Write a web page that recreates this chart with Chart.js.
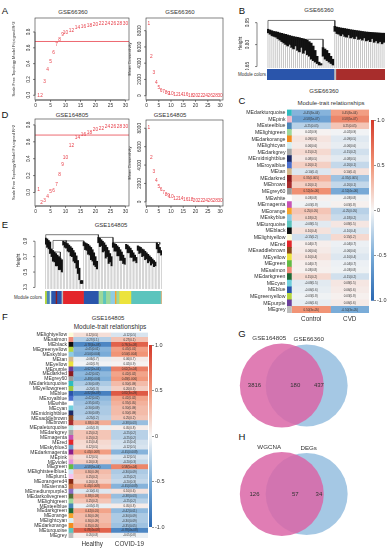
<!DOCTYPE html>
<html>
<head>
<meta charset="utf-8">
<title>WGCNA panels</title>
<script src="https://cdn.jsdelivr.net/npm/chart.js@4.4.1/dist/chart.umd.min.js"></script>
<style>
  body { margin: 0; width: 389px; height: 550px; position: relative; overflow: hidden; background: #fff;
         font-family: "Liberation Sans", Arial, Helvetica, sans-serif; color: #222; }
  canvas { position: absolute; }
  .t { position: absolute; white-space: nowrap; transform: translate(-50%, -50%); line-height: 1; font-size: 6px; color: #333; }
  .p { position: absolute; line-height: 1; transform: translate(-50%, -50%); font-size: 9.5px; color: #111; }
  .r { position: absolute; white-space: nowrap; transform: translate(-100%, -50%); line-height: 1; font-size: 4.5px; color: #333; }
</style>
</head>
<body>
<div class="p" style="left:5px;top:11px">A</div>
<div class="p" style="left:242px;top:11px">B</div>
<div class="p" style="left:242px;top:101px">C</div>
<div class="p" style="left:5px;top:115px">D</div>
<div class="p" style="left:5px;top:225px">E</div>
<div class="p" style="left:5px;top:317px">F</div>
<div class="p" style="left:242px;top:334px">G</div>
<div class="p" style="left:242px;top:437px">H</div>

<div class="t" style="left:73px;top:12px">GSE66360</div>
<div class="t" style="left:180px;top:12px">GSE66360</div>
<div class="t" style="left:319px;top:10px">GSE66360</div>
<div class="t" style="left:324px;top:91px">GSE66360</div>
<div class="t" style="left:331px;top:103px">Module-trait relationships</div>
<div class="t" style="left:72px;top:115px">GSE164805</div>
<div class="t" style="left:170px;top:115px">GSE164805</div>
<div class="t" style="left:111px;top:225px">GSE164805</div>
<div class="t" style="left:108px;top:318px">GSE164805</div>
<div class="t" style="left:110px;top:327px;font-size:6.5px">Module-trait relationships</div>
<div class="r" style="left:266px;top:75px">Module colors</div>
<div class="r" style="left:42px;top:298px">Module colors</div>

<script>
// =====================
// Data
// =====================
// soft-threshold scans (panels A and D)
const powers = [1, 2, 3, 4, 5, 6, 7, 8, 9, 10, 12, 14, 16, 18, 20, 22, 24, 26, 28, 30];
const fitA = [-0.01, -0.01, 0.17, 0.325, 0.43, 0.54, 0.64, 0.70, 0.76, 0.79, 0.82, 0.85, 0.87, 0.885, 0.895, 0.90, 0.905, 0.91, 0.91, 0.91];
const connA = [8910, 4800, 2830, 1650, 1030, 615, 455, 330, 290, 200, 140, 100, 80, 60, 50, 40, 35, 30, 25, 20];
const fitD = [0.036, -0.115, -0.10, -0.05, 0.015, 0.024, 0.095, 0.21, 0.33, 0.41, 0.55, 0.65, 0.69, 0.71, 0.74, 0.76, 0.78, 0.78, 0.78, 0.78];
const connD = [8110, 4820, 3240, 2300, 1690, 1330, 970, 790, 650, 540, 380, 300, 250, 210, 180, 160, 140, 120, 110, 100];
const fitCut = 0.68;
const powerTicks = [0, 5, 10, 15, 20, 25, 30];
const fitTicks = [0, 0.2, 0.4, 0.6, 0.8];
const fitTickLabels = ['0.0', '0.2', '0.4', '0.6', '0.8'];
const connTicks = [0, 2000, 4000, 6000, 8000];
const connTickLabels = ['0', '2000', '4000', '6000', '8000'];

// gene dendrogram GSE66360 (panel B): branch top / lowest extent per leaf group
const topsB = [0.905, 0.90, 0.895, 0.89, 0.888, 0.885, 0.88, 0.877, 0.873, 0.87, 0.866, 0.862, 0.858, 0.855, 0.852, 0.85, 0.847,
  0.843, 0.84, 0.836, 0.83, 0.82, 0.81, 0.79, 0.76, 0.72, 0.68, 0.67, 0.78, 0.77, 0.76, 0.74, 0.72, 0.70,
  0.925, 0.92, 0.917, 0.914, 0.912, 0.91, 0.907, 0.905, 0.902, 0.90, 0.898, 0.896, 0.894, 0.892, 0.89, 0.888, 0.886,
  0.885, 0.884, 0.883, 0.882, 0.881, 0.88, 0.879, 0.878, 0.878];
const lowsB = [0.88, 0.87, 0.86, 0.855, 0.85, 0.84, 0.83, 0.82, 0.81, 0.80, 0.79, 0.80, 0.78, 0.77, 0.79, 0.76, 0.75,
  0.78, 0.74, 0.76, 0.73, 0.72, 0.70, 0.69, 0.68, 0.67, 0.66, 0.66, 0.72, 0.70, 0.69, 0.68, 0.67, 0.66,
  0.89, 0.875, 0.87, 0.86, 0.87, 0.855, 0.85, 0.865, 0.845, 0.85, 0.84, 0.855, 0.835, 0.84, 0.83, 0.845, 0.825,
  0.83, 0.82, 0.84, 0.815, 0.825, 0.81, 0.82, 0.805, 0.815];
// merges: [left leaf, left child height, right leaf, right child height, merge height]
const mergesB = [[0, 0.905, 34, 0.925, 0.965], [11, 0.836, 28, 0.78, 0.836]];
const heightTicksB = [0.65, 0.80, 0.95];
const heightLabelsB = ['0.65', '0.80', '0.95'];
const bandColorsB = ['blue', 'grey', 'brown'];
const bandSizesB = [34, 1, 25];

// gene dendrogram GSE164805 (panel E)
const topsE = [0.94, 0.93, 0.91, 0.89, 0.80, 0.78, 0.76, 0.74, 0.72, 0.70, 0.68, 0.66,
  0.90, 0.89, 0.88, 0.87, 0.85, 0.83, 0.81, 0.78, 0.75, 0.71, 0.65, 0.55, 0.39, 0.39,
  0.89, 0.88, 0.87, 0.86, 0.84, 0.82, 0.79, 0.75, 0.70, 0.64,
  0.95, 0.94, 0.92, 0.90, 0.88, 0.85, 0.82, 0.78, 0.74, 0.70,
  0.88, 0.87, 0.86, 0.84, 0.82, 0.79, 0.76, 0.72, 0.68,
  0.86, 0.85, 0.83, 0.81, 0.78, 0.75, 0.72, 0.69,
  0.84, 0.83, 0.82, 0.80, 0.79, 0.77, 0.75, 0.73, 0.71, 0.69, 0.67, 0.65, 0.63,
  0.88, 0.86, 0.82, 0.78];
const lowsE = [0.86, 0.82, 0.80, 0.74, 0.70, 0.64, 0.63, 0.58, 0.58, 0.53, 0.53, 0.50,
  0.85, 0.82, 0.81, 0.77, 0.76, 0.71, 0.70, 0.64, 0.62, 0.55, 0.48, 0.40, 0.35, 0.35,
  0.84, 0.79, 0.78, 0.73, 0.72, 0.66, 0.64, 0.59, 0.57, 0.54,
  0.88, 0.83, 0.84, 0.76, 0.77, 0.68, 0.70, 0.61, 0.63, 0.58,
  0.82, 0.77, 0.77, 0.71, 0.71, 0.65, 0.65, 0.61, 0.60,
  0.80, 0.75, 0.75, 0.69, 0.69, 0.64, 0.65, 0.62,
  0.78, 0.74, 0.75, 0.70, 0.71, 0.66, 0.67, 0.62, 0.64, 0.59, 0.61, 0.57, 0.58,
  0.80, 0.75, 0.75, 0.72];
const mergesE = [[0, 0.94, 36, 0.95, 0.985], [5, 0.80, 14, 0.885, 0.91], [14, 0.885, 26, 0.89, 0.905],
  [5, 0.76, 10, 0.68, 0.76], [36, 0.95, 46, 0.88, 0.95], [46, 0.88, 78, 0.86, 0.885]];
const heightTicksE = [0.3, 0.5, 0.7, 0.9];
const heightLabelsE = ['0.3', '0.5', '0.7', '0.9'];
const bandColorsE = ['greenyellow', 'steelblue', 'lightcyan', 'blue', 'darkred', 'blue', 'grey', 'red', 'blue', 'lightgreen',
  'turquoise', 'lightgreen', 'skyblue', 'orange', 'lightgreen', 'yellow', 'turquoise', 'tan'];
const bandSizesE = [1, 2, 1, 3, 1, 3, 1, 14, 10, 3, 2, 3, 3, 1, 2, 8, 20, 1];

// module-trait relationships GSE66360 (panel C)
const traitsC = ['Control', 'CVD'];
const modulesC = ['darkturquoise', 'pink', 'steelblue', 'lightgreen', 'darkorange', 'lightcyan', 'darkgrey', 'midnightblue',
  'royalblue', 'tan', 'darkred', 'brown', 'grey60', 'white', 'magenta', 'orange', 'skyblue', 'turquoise', 'black',
  'lightyellow', 'red', 'saddlebrown', 'yellow', 'green', 'salmon', 'darkgreen', 'cyan', 'blue', 'greenyellow', 'purple', 'grey'];
const corControl = [-0.45, -0.58, -0.25, 0.02, 0.09, 0.06, 0.15, 0.08, 0.2, -0.1, 0.35, 0.2, 0.52, 0.03, -0.03, 0.25,
  0.18, -0.08, 0.1, -0.15, 0.04, 0.06, 0.1, 0.04, 0.03, 0.15, -0.08, -0.06, -0.03, -0.06, 0.5];
const corCVD = [0.45, 0.58, 0.25, -0.02, -0.09, -0.06, -0.15, -0.08, -0.2, 0.1, -0.35, -0.2, -0.52, -0.03, 0.03, -0.25,
  -0.18, 0.08, -0.1, 0.15, -0.04, -0.06, -0.1, -0.04, -0.03, -0.15, 0.08, 0.06, 0.03, 0.06, -0.5];
const pvalC = ['3e-04', '5e-07', '0.05', '0.9', '0.5', '0.6', '0.2', '0.5', '0.1', '0.4', '0.005', '0.1', '4e-06', '0.8',
  '0.8', '0.05', '0.2', '0.5', '0.4', '0.2', '0.7', '0.6', '0.4', '0.7', '0.8', '0.2', '0.5', '0.6', '0.8', '0.6', '3e-05'];

// module-trait relationships GSE164805 (panel F)
const traitsF = ['Healthy', 'COVID-19'];
const modulesF = ['lightyellow', 'salmon', 'black', 'greenyellow', 'skyblue', 'tan', 'yellow', 'purple', 'darkred', 'grey60',
  'darkturquoise', 'yellowgreen', 'blue', 'royalblue', 'white', 'cyan', 'midnightblue', 'saddlebrown', 'brown',
  'paleturquoise', 'darkgrey', 'magenta', 'red', 'skyblue3', 'darkmagenta', 'pink', 'violet', 'green', 'lightsteelblue1',
  'plum1', 'orangered4', 'sienna3', 'mediumpurple3', 'darkolivegreen', 'lightgreen', 'steelblue', 'darkgreen', 'orange',
  'lightcyan', 'darkorange', 'turquoise', 'grey'];
const corHealthy = [0.12, -0.27, -0.78, -0.45, -0.5, -0.06, -0.02, -0.62, -0.42, -0.48, -0.3, -0.2, -0.82, -0.42, -0.35,
  -0.3, -0.3, -0.25, 0.38, -0.05, 0.25, 0.25, 0.15, 0.12, 0.45, 0.12, 0.2, -0.58, 0.3, 0.25, 0.2, 0.45, -0.1, 0.38, 0.25,
  -0.05, 0.42, 0.3, 0.3, 0.35, 0.78, 0.05];
const corCovid = [-0.12, 0.27, 0.78, 0.45, 0.5, 0.06, 0.02, 0.62, 0.42, 0.48, 0.3, 0.2, 0.82, 0.42, 0.35,
  0.3, 0.3, 0.25, -0.38, 0.05, -0.25, -0.25, -0.15, -0.12, -0.45, -0.12, -0.2, 0.58, -0.3, -0.25, -0.2, -0.45, 0.1, -0.38,
  -0.25, 0.05, -0.42, -0.3, -0.3, -0.35, -0.78, -0.05];
const pvalF = ['0.5', '0.1', '4e-08', '0.01', '0.004', '0.7', '0.9', '2e-04', '0.02', '0.006', '0.09', '0.3', '3e-09', '0.02',
  '0.05', '0.09', '0.09', '0.2', '0.03', '0.8', '0.2', '0.2', '0.4', '0.5', '0.008', '0.5', '0.3', '5e-04', '0.09', '0.2',
  '0.3', '0.008', '0.6', '0.03', '0.2', '0.8', '0.01', '0.09', '0.09', '0.05', '4e-08', '0.8'];

// Venn diagrams (panels G and H)
const setsG = ['GSE164805', 'GSE66360'];
const countsG = [3816, 180, 437];
const setsH = ['WGCNA', 'DEGs'];
const countsH = [126, 57, 34];

// =====================
// Styles
// =====================
const FONT = '"Liberation Sans", Arial, Helvetica, sans-serif';
const RED = '#e8434d';
const MOD = {
  darkturquoise: '#2fbcc0', pink: '#f4b9c9', steelblue: '#4a86b8', lightgreen: '#9dd89a', darkorange: '#f28c1f',
  lightcyan: '#d6eff2', darkgrey: '#a7a7a7', midnightblue: '#1e2a66', royalblue: '#4b6fcd', tan: '#d5b78a',
  darkred: '#8c1c1f', brown: '#a82d2c', grey60: '#9b9b9b', white: '#ffffff', magenta: '#c653b6', orange: '#f6a42c',
  skyblue: '#8dcbe4', turquoise: '#5bc4bd', black: '#111111', lightyellow: '#fcfbd8', red: '#e3262b',
  saddlebrown: '#8a4a1f', yellow: '#ece33c', green: '#62bb45', salmon: '#f08a78', darkgreen: '#1c6a37',
  cyan: '#70d0dd', blue: '#2a55ab', greenyellow: '#b5d63d', purple: '#6c3f9c', grey: '#bdbdbd',
  yellowgreen: '#9cc942', paleturquoise: '#b8e5e4', skyblue3: '#6aa0c9', darkmagenta: '#8b1c8b', violet: '#e391de',
  lightsteelblue1: '#d0e1f6', plum1: '#f5c3ef', orangered4: '#8a2a15', sienna3: '#c86b3c', mediumpurple3: '#8b6cc3',
  darkolivegreen: '#566b36'
};
const heatStops = [[-1, [42, 104, 178]], [-0.5, [122, 172, 216]], [0, [246, 246, 246]], [0.5, [241, 148, 118]], [1, [212, 58, 42]]];

function heat(v) {
  for (let i = 1; i < heatStops.length; i++) {
    const [v1, c1] = heatStops[i];
    const [v0, c0] = heatStops[i - 1];
    if (v <= v1) {
      const t = (v - v0) / (v1 - v0);
      const c = c0.map((x, k) => Math.round(x + (c1[k] - x) * t));
      return `rgb(${c[0]},${c[1]},${c[2]})`;
    }
  }
  return 'rgb(212,58,42)';
}

// =====================
// Helpers
// =====================
function makeCanvas(left, top, w, h) {
  const c = document.createElement('canvas');
  c.width = w; c.height = h;
  c.style.left = left + 'px'; c.style.top = top + 'px';
  c.style.width = w + 'px'; c.style.height = h + 'px';
  document.body.appendChild(c);
  return c;
}

function baseOptions(padding) {
  return {
    responsive: false, animation: false, devicePixelRatio: 1, events: [],
    layout: { padding },
    plugins: { legend: { display: false }, tooltip: { enabled: false } }
  };
}

function rotText(ctx, s, x, y, size) {
  ctx.save();
  if (size) ctx.font = `${size}px ${FONT}`;
  ctx.translate(x, y);
  ctx.rotate(-Math.PI / 2);
  ctx.fillText(s, 0, 0);
  ctx.restore();
}

// R-style axes: box, outside ticks, vertical y labels
function rAxes(cfg) {
  return {
    id: 'rAxes',
    afterDraw(chart) {
      const { ctx, chartArea: a, scales } = chart;
      const seg = (x1, y1, x2, y2) => { ctx.beginPath(); ctx.moveTo(x1, y1); ctx.lineTo(x2, y2); ctx.stroke(); };
      ctx.save();
      ctx.strokeStyle = '#333'; ctx.fillStyle = '#333'; ctx.lineWidth = 0.6;
      ctx.font = `4.8px ${FONT}`;
      ctx.textAlign = 'center'; ctx.textBaseline = 'middle';
      if (cfg.box) ctx.strokeRect(a.left, a.top, a.right - a.left, a.bottom - a.top);
      if (cfg.xTicks) {
        const px = cfg.xTicks.map(v => scales.x.getPixelForValue(v));
        seg(px[0], a.bottom, px[px.length - 1], a.bottom);
        px.forEach((p, i) => { seg(p, a.bottom, p, a.bottom + 2); ctx.fillText(cfg.xLabels[i], p, a.bottom + 5.5); });
      }
      if (cfg.yTicks) {
        const x0 = a.left - (cfg.yGap || 0);
        const py = cfg.yTicks.map(v => scales.y.getPixelForValue(v));
        seg(x0, py[0], x0, py[py.length - 1]);
        py.forEach((p, i) => { seg(x0, p, x0 - 2, p); rotText(ctx, cfg.yLabels[i], x0 - cfg.yLabelOff, p); });
      }
      if (cfg.yTitle) rotText(ctx, cfg.yTitle, a.left - cfg.yTitleOff, (a.top + a.bottom) / 2, cfg.titleSize);
      ctx.restore();
    }
  };
}

// power numbers printed in place of points
function pointText(labels) {
  return {
    id: 'pointText',
    afterDatasetsDraw(chart) {
      const ctx = chart.ctx;
      ctx.save();
      ctx.fillStyle = RED; ctx.font = `4.8px ${FONT}`;
      ctx.textAlign = 'center'; ctx.textBaseline = 'middle';
      chart.getDatasetMeta(0).data.forEach((pt, i) => ctx.fillText(String(labels[i]), pt.x, pt.y));
      ctx.restore();
    }
  };
}

// =====================
// A / D: scale independence + mean connectivity
// =====================
function softChart(box, pad, values, yMin, yMax, yTicks, yLabels, yTitle, cut, offs) {
  const datasets = [{ type: 'scatter', data: powers.map((p, i) => ({ x: p, y: values[i] })), pointRadius: 0 }];
  if (cut !== null) {
    datasets.push({ type: 'line', data: [{ x: -5, y: cut }, { x: 40, y: cut }], borderColor: RED, borderWidth: 0.8, pointRadius: 0 });
  }
  const options = baseOptions(pad);
  options.scales = {
    x: { type: 'linear', display: false, min: -0.2, max: 31.2 },
    y: { type: 'linear', display: false, min: yMin, max: yMax }
  };
  return new Chart(makeCanvas(...box), {
    type: 'scatter', data: { datasets }, options,
    plugins: [pointText(powers), rAxes({
      box: true, xTicks: powerTicks, xLabels: powerTicks.map(String), yTicks, yLabels,
      yLabelOff: offs[0], yTitle, yTitleOff: offs[1], titleSize: 4
    })]
  });
}

softChart([0, 0, 132, 112], { left: 35, top: 18, right: 3, bottom: 12 }, fitA, -0.06, 0.977, fitTicks, fitTickLabels,
  'Scale Free Topology Model Fit,signed R^2', fitCut, [6.5, 21]);
softChart([125, 0, 102, 112], { left: 21, top: 18, right: 4, bottom: 12 }, connA, -530, 9560, connTicks, connTickLabels,
  'Mean Connectivity', null, [6, 16]);
softChart([0, 110, 132, 110], { left: 35, top: 9, right: 3, bottom: 14 }, fitD, -0.16, 0.87, fitTicks, fitTickLabels,
  'Scale Free Topology Model Fit,signed R^2', fitCut, [6.5, 21]);
softChart([125, 110, 102, 110], { left: 21, top: 10, right: 4, bottom: 14 }, connD, -450, 8900, connTicks, connTickLabels,
  'Mean Connectivity', null, [6, 16]);

// =====================
// B / E: gene dendrograms + module colour bands
// =====================
function dendroChart(box, pad, tops, lows, merges, yMin, yMax, yTicks, yLabels) {
  const n = tops.length;
  const datasets = [
    { type: 'bar', data: lows.map((v, i) => ({ x: i, y: [yMin, v] })), backgroundColor: '#a0a0a0',
      barPercentage: 0.3, categoryPercentage: 1, grouped: false },
    { type: 'bar', data: tops.map((v, i) => ({ x: i, y: [lows[i], v] })), backgroundColor: '#111',
      barPercentage: 1, categoryPercentage: 1, grouped: false }
  ];
  merges.forEach(m => datasets.push({
    type: 'line', data: [{ x: m[0], y: m[1] }, { x: m[0], y: m[4] }, { x: m[2], y: m[4] }, { x: m[2], y: m[3] }],
    borderColor: '#222', borderWidth: 0.6, pointRadius: 0, tension: 0
  }));
  const options = baseOptions(pad);
  options.scales = {
    x: { type: 'linear', display: false, min: -0.5, max: n - 0.5, offset: false },
    y: { type: 'linear', display: false, min: yMin, max: yMax }
  };
  return new Chart(makeCanvas(...box), {
    type: 'bar', data: { datasets }, options,
    plugins: [rAxes({ box: false, yTicks, yLabels, yGap: 10, yLabelOff: 9, yTitle: 'Height', yTitleOff: 26, titleSize: 4.8 })]
  });
}

function moduleBand(box, colors, sizes) {
  const total = sizes.reduce((s, v) => s + v, 0);
  const options = baseOptions(0);
  options.indexAxis = 'y';
  options.scales = {
    x: { display: false, stacked: true, min: 0, max: total },
    y: { display: false, stacked: true }
  };
  return new Chart(makeCanvas(...box), {
    type: 'bar',
    data: {
      labels: ['colors'],
      datasets: colors.map((c, i) => ({ data: [sizes[i]], backgroundColor: MOD[c], barPercentage: 1, categoryPercentage: 1 }))
    },
    options
  });
}

dendroChart([236, 14, 153, 56], { left: 31, top: 5, right: 4, bottom: 2 }, topsB, lowsB, mergesB, 0.64, 0.975,
  heightTicksB, heightLabelsB);
moduleBand([267, 69, 118, 11], bandColorsB, bandSizesB);

dendroChart([10, 228, 156, 62], { left: 35, top: 4, right: 4, bottom: 1 }, topsE, lowsE, mergesE, 0.28, 1.02,
  heightTicksE, heightLabelsE);
moduleBand([45, 291, 117, 13], bandColorsE, bandSizesE);

// =====================
// C / F: module-trait heatmaps + colour keys
// =====================
function cellText(cols, pvals) {
  return {
    id: 'cellText',
    afterDatasetsDraw(chart) {
      const ctx = chart.ctx;
      ctx.save();
      ctx.fillStyle = '#333'; ctx.font = `3px ${FONT}`;
      ctx.textAlign = 'center'; ctx.textBaseline = 'middle';
      cols.forEach((vals, k) => {
        chart.getDatasetMeta(k + 1).data.forEach((el, i) => {
          ctx.fillText(vals[i].toFixed(2) + '(' + pvals[i] + ')', (el.x + el.base) / 2, el.y);
        });
      });
      ctx.restore();
    }
  };
}

function heatChart(box, pad, yWidth, xHeight, xMin, modules, colA, colB, pvals, traits, labelSize) {
  const options = baseOptions(pad);
  options.indexAxis = 'y';
  options.scales = {
    y: {
      ticks: { font: { size: labelSize, family: FONT }, color: '#333', padding: 1.5, autoSkip: false },
      grid: { display: false, drawTicks: false }, border: { display: false },
      afterFit(s) { s.width = yWidth; }
    },
    x: {
      type: 'linear', min: xMin, max: 2,
      ticks: { font: { size: 6.3, family: FONT }, color: '#333', padding: 2.5, callback: (v, i) => traits[i] },
      afterBuildTicks(s) { s.ticks = [{ value: 0.5 }, { value: 1.5 }]; },
      grid: { display: false, drawTicks: false }, border: { display: false },
      afterFit(s) { s.height = xHeight; }
    }
  };
  const bar = { grouped: false, barPercentage: 1, categoryPercentage: 1, borderWidth: 0 };
  return new Chart(makeCanvas(...box), {
    type: 'bar',
    data: {
      labels: modules.map(m => 'ME' + m),
      datasets: [
        { ...bar, data: modules.map(() => [xMin, -0.015]), backgroundColor: modules.map(m => MOD[m]) },
        { ...bar, label: traits[0], data: modules.map(() => [0, 1]), backgroundColor: colA.map(heat) },
        { ...bar, label: traits[1], data: modules.map(() => [1, 2]), backgroundColor: colB.map(heat) }
      ]
    },
    options,
    plugins: [cellText([colA, colB], pvals)]
  });
}

function colorKey(box, pad, yWidth) {
  const options = baseOptions(pad);
  options.scales = {
    x: { display: false },
    y: {
      position: 'right', min: -1, max: 1,
      ticks: { stepSize: 0.5, font: { size: 5.5, family: FONT }, color: '#333', padding: 1 },
      grid: { drawOnChartArea: false, tickLength: 2, color: '#444', lineWidth: 0.6 },
      border: { display: false },
      afterFit(s) { s.width = yWidth; }
    }
  };
  return new Chart(makeCanvas(...box), {
    type: 'bar',
    data: {
      labels: ['key'],
      datasets: [{
        data: [[-1, 1]], barPercentage: 1, categoryPercentage: 1,
        backgroundColor(ctx) {
          const a = ctx.chart.chartArea;
          if (!a) return '#ccc';
          const g = ctx.chart.ctx.createLinearGradient(0, a.bottom, 0, a.top);
          heatStops.forEach(([v, c]) => g.addColorStop((v + 1) / 2, `rgb(${c[0]},${c[1]},${c[2]})`));
          return g;
        }
      }]
    },
    options
  });
}

heatChart([240, 105, 149, 222], { left: 0, top: 4, right: 20, bottom: 0 }, 47, 14, -0.13,
  modulesC, corControl, corCVD, pvalC, traitsC, 5.2);
colorKey([369, 115, 20, 190], { left: 2, top: 5, right: 0, bottom: 4 }, 15);

heatChart([0, 328, 160, 222], { left: 0, top: 4, right: 12, bottom: 0 }, 68.5, 12, -0.135,
  modulesF, corHealthy, corCovid, pvalF, traitsF, 5);
colorKey([147, 340, 22, 192], { left: 2, top: 5, right: 0, bottom: 5 }, 17);

// =====================
// G / H: Venn diagrams
// =====================
function vennText(sets, counts) {
  return {
    id: 'vennText',
    afterDatasetsDraw(chart) {
      const ctx = chart.ctx;
      const c0 = chart.getDatasetMeta(0).data[0];
      const c1 = chart.getDatasetMeta(1).data[0];
      const r0 = c0.options.radius, r1 = c1.options.radius;
      ctx.save();
      ctx.fillStyle = '#333'; ctx.textAlign = 'center'; ctx.textBaseline = 'middle';
      ctx.font = `6.2px ${FONT}`;
      ctx.fillText(sets[0], c0.x - 0.3 * r0, c0.y - r0 - 5);
      ctx.fillText(sets[1], c1.x + 0.05 * r1, c1.y - r1 - 5);
      ctx.font = `6px ${FONT}`;
      ctx.fillText(String(counts[0]), c0.x - 0.65 * r0, c0.y);
      ctx.fillText(String(counts[1]), (c0.x + c1.x) / 2 + 1, c0.y);
      ctx.fillText(String(counts[2]), c1.x + 0.3 * r1, c1.y);
      ctx.restore();
    }
  };
}

function vennChart(box, yRange, sets, counts) {
  const options = baseOptions(0);
  options.scales = {
    x: { type: 'linear', display: false, min: -3, max: 4.25 },
    y: { type: 'linear', display: false, min: yRange[0], max: yRange[1] }
  };
  return new Chart(makeCanvas(...box), {
    type: 'bubble',
    data: {
      datasets: [
        { data: [{ x: -1, y: 0, r: 42 }], backgroundColor: 'rgba(219,102,167,0.85)', borderWidth: 0, clip: false },
        { data: [{ x: 1, y: 0, r: 41 }], backgroundColor: 'rgba(105,163,210,0.6)', borderWidth: 0, clip: false }
      ]
    },
    options,
    plugins: [vennText(sets, counts)]
  });
}

vennChart([215, 330, 174, 110], [-2.21, 2.375], setsG, countsG);
vennChart([215, 438, 174, 112], [-2.33, 2.33], setsH, countsH);
</script>
</body>
</html>
